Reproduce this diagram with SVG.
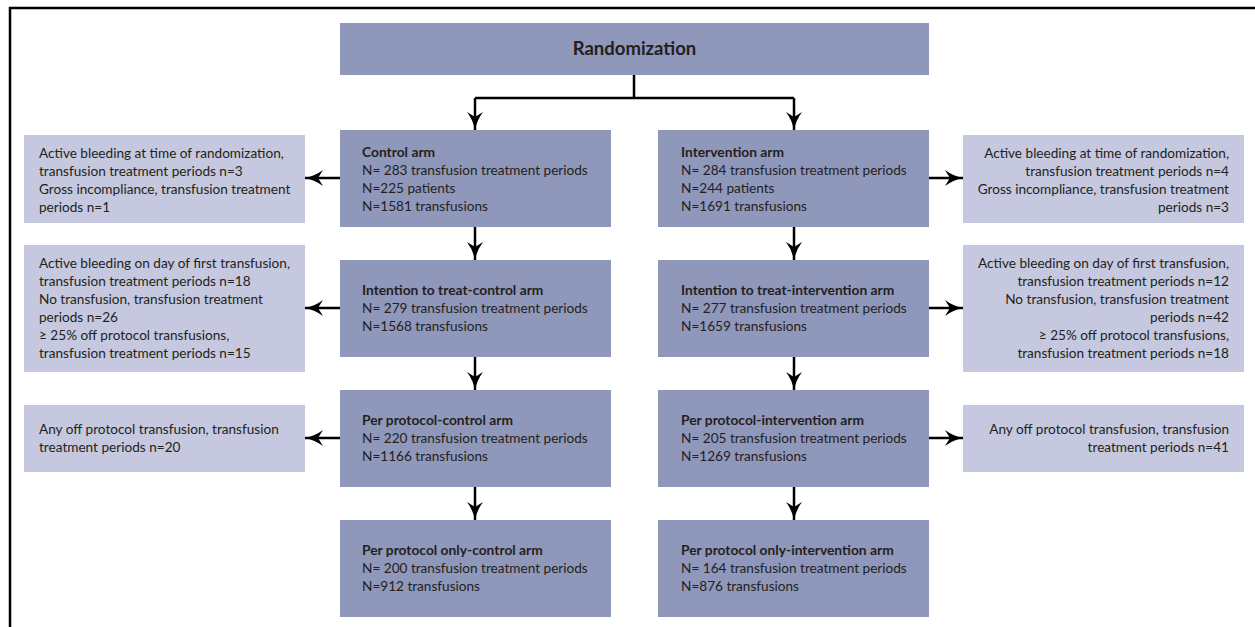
<svg xmlns="http://www.w3.org/2000/svg" width="1255" height="627" viewBox="0 0 1255 627">
<style>
.dark{fill:#8f97bb}
.light{fill:#c5c8de}
text{font-family:Lato,"Liberation Sans",Arial,sans-serif;font-size:13.6px;fill:#231f20}
.b{font-weight:bold;font-size:13.8px}
.t{font-size:18.5px;font-weight:bold}
.r{text-anchor:end}
.c{stroke:#000;stroke-width:2.5;fill:none}
.a{stroke:#000;stroke-width:2.5;fill:none;marker-end:url(#ah)}
</style>
<defs>
<marker id="ah" markerUnits="userSpaceOnUse" markerWidth="20" markerHeight="18" refX="18" refY="8" orient="auto" viewBox="0 0 20 16">
<path d="M0,0 Q8,6 18,8 Q8,10 0,16 L5,8 Z" fill="#000"/>
</marker>
</defs>
<rect width="1255" height="627" fill="#fff"/>
<g id="frame">
<path d="M10,627 V8 H1255" class="c"/>
</g>
<g id="randomization">
<rect x="340" y="23" width="589" height="52" class="dark"/>
<text x="634.5" y="54.5" class="t" text-anchor="middle">Randomization</text>
</g>
<g id="control-arm">
<rect x="340" y="130" width="271" height="97" class="dark"/>
<text x="362" y="157" class="b">Control arm</text>
<text x="362" y="175">N= 283 transfusion treatment periods</text>
<text x="362" y="193">N=225 patients</text>
<text x="362" y="211">N=1581 transfusions</text>
</g>
<g id="intervention-arm">
<rect x="658" y="130" width="271" height="97" class="dark"/>
<text x="681" y="157" class="b">Intervention arm</text>
<text x="681" y="175">N= 284 transfusion treatment periods</text>
<text x="681" y="193">N=244 patients</text>
<text x="681" y="211">N=1691 transfusions</text>
</g>
<g id="excl-control-1">
<rect x="24" y="135" width="281" height="88" class="light"/>
<text x="39" y="158">Active bleeding at time of randomization,</text>
<text x="39" y="176">transfusion treatment periods n=3</text>
<text x="39" y="194">Gross incompliance, transfusion treatment</text>
<text x="39" y="212">periods n=1</text>
</g>
<g id="excl-intervention-1">
<rect x="963" y="135" width="281" height="88" class="light"/>
<text x="1229" y="158" class="r">Active bleeding at time of randomization,</text>
<text x="1229" y="176" class="r">transfusion treatment periods n=4</text>
<text x="1229" y="194" class="r">Gross incompliance, transfusion treatment</text>
<text x="1229" y="212" class="r">periods n=3</text>
</g>
<g id="itt-control">
<rect x="340" y="260" width="271" height="97" class="dark"/>
<text x="362" y="295" class="b">Intention to treat-control arm</text>
<text x="362" y="313">N= 279 transfusion treatment periods</text>
<text x="362" y="331">N=1568 transfusions</text>
</g>
<g id="itt-intervention">
<rect x="658" y="260" width="271" height="97" class="dark"/>
<text x="681" y="295" class="b">Intention to treat-intervention arm</text>
<text x="681" y="313">N= 277 transfusion treatment periods</text>
<text x="681" y="331">N=1659 transfusions</text>
</g>
<g id="excl-control-2">
<rect x="24" y="245" width="281" height="127" class="light"/>
<text x="39" y="268">Active bleeding on day of first transfusion,</text>
<text x="39" y="286">transfusion treatment periods n=18</text>
<text x="39" y="304">No transfusion, transfusion treatment</text>
<text x="39" y="322">periods n=26</text>
<text x="39" y="340">≥ 25% off protocol transfusions,</text>
<text x="39" y="358">transfusion treatment periods n=15</text>
</g>
<g id="excl-intervention-2">
<rect x="963" y="245" width="281" height="127" class="light"/>
<text x="1229" y="268" class="r">Active bleeding on day of first transfusion,</text>
<text x="1229" y="286" class="r">transfusion treatment periods n=12</text>
<text x="1229" y="304" class="r">No transfusion, transfusion treatment</text>
<text x="1229" y="322" class="r">periods n=42</text>
<text x="1229" y="340" class="r">≥ 25% off protocol transfusions,</text>
<text x="1229" y="358" class="r">transfusion treatment periods n=18</text>
</g>
<g id="pp-control">
<rect x="340" y="390" width="271" height="97" class="dark"/>
<text x="362" y="425" class="b">Per protocol-control arm</text>
<text x="362" y="443">N= 220 transfusion treatment periods</text>
<text x="362" y="461">N=1166 transfusions</text>
</g>
<g id="pp-intervention">
<rect x="658" y="390" width="271" height="97" class="dark"/>
<text x="681" y="425" class="b">Per protocol-intervention arm</text>
<text x="681" y="443">N= 205 transfusion treatment periods</text>
<text x="681" y="461">N=1269 transfusions</text>
</g>
<g id="excl-control-3">
<rect x="24" y="405" width="281" height="67" class="light"/>
<text x="39" y="434">Any off protocol transfusion, transfusion</text>
<text x="39" y="452">treatment periods n=20</text>
</g>
<g id="excl-intervention-3">
<rect x="963" y="405" width="281" height="67" class="light"/>
<text x="1229" y="434" class="r">Any off protocol transfusion, transfusion</text>
<text x="1229" y="452" class="r">treatment periods n=41</text>
</g>
<g id="ppo-control">
<rect x="340" y="520" width="271" height="97" class="dark"/>
<text x="362" y="555" class="b">Per protocol only-control arm</text>
<text x="362" y="573">N= 200 transfusion treatment periods</text>
<text x="362" y="591">N=912 transfusions</text>
</g>
<g id="ppo-intervention">
<rect x="658" y="520" width="271" height="97" class="dark"/>
<text x="681" y="555" class="b">Per protocol only-intervention arm</text>
<text x="681" y="573">N= 164 transfusion treatment periods</text>
<text x="681" y="591">N=876 transfusions</text>
</g>
<g id="connectors">
<path d="M634,75 V98 M475,98 H794" class="c"/>
<path d="M475,98 V130" class="a"/>
<path d="M794,98 V130" class="a"/>
<path d="M475,227 V260" class="a"/>
<path d="M794,227 V260" class="a"/>
<path d="M475,357 V390" class="a"/>
<path d="M794,357 V390" class="a"/>
<path d="M475,487 V520" class="a"/>
<path d="M794,487 V520" class="a"/>
<path d="M340,178 H305" class="a"/>
<path d="M929,178 H963" class="a"/>
<path d="M340,308 H305" class="a"/>
<path d="M929,308 H963" class="a"/>
<path d="M340,438 H305" class="a"/>
<path d="M929,438 H963" class="a"/>
</g>
</svg>
